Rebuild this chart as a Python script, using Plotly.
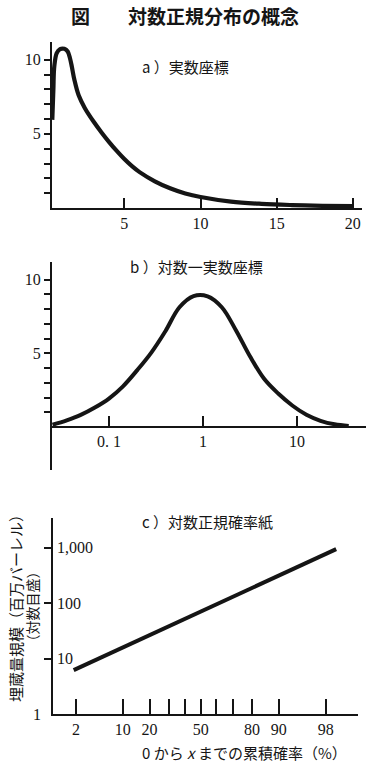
import math
import plotly.graph_objects as go
from statistics import NormalDist

# ---------------- data ----------------
# a) real coordinates
a_x = [0.27, 0.34, 0.40, 0.56, 0.78, 1.06, 1.28, 1.43, 1.55, 1.72, 2.0, 2.4, 3.0, 3.5, 4.0,
       4.5, 5.0, 5.5, 6.0, 7.0, 8.0, 9.0, 10, 12, 14, 16, 18, 20]
a_y = [5.95, 7.97, 9.55, 10.45, 10.72, 10.74, 10.56, 10.1, 9.55, 8.65, 7.6, 6.75, 5.8, 5.1, 4.45,
       3.85, 3.3, 2.82, 2.42, 1.8, 1.33, 0.98, 0.74, 0.43, 0.28, 0.2, 0.15, 0.12]
a_xticks = [5, 10, 15, 20]
a_yticks = [1, 2, 3, 4, 5, 6, 7, 8, 9, 10]
a_ylabels = ["", "", "", "", "5", "", "", "", "", "10"]

# b) log - real coordinates
b_x = [0.0251, 0.0355, 0.0501, 0.0708, 0.1, 0.141, 0.2, 0.282, 0.398, 0.562, 0.794, 1.12,
       1.585, 2.24, 3.16, 4.47, 6.31, 8.91, 12.6, 17.8, 25.1, 35.5]
b_y = [0.15, 0.45, 0.82, 1.32, 1.93, 2.76, 3.86, 5.05, 6.5, 8.13, 8.89, 8.87,
       8.13, 6.57, 4.8, 3.27, 2.27, 1.46, 0.83, 0.42, 0.18, 0.07]
b_xticks = [0.1, 1, 10]
b_xlabels = ["0. 1", "1", "10"]
b_yticks = [1, 2, 3, 4, 5, 6, 7, 8, 9, 10]
b_ylabels = ["", "", "", "", "5", "", "", "", "", "10"]

# c) log-normal probability paper
c_prob = [1.83, 98.7]          # cumulative probability (%)
c_size = [6.2, 950]            # reserve size (million barrels)
c_xticks = [2, 10, 20, 30, 40, 50, 60, 70, 80, 90, 98]
c_xlabels = ["2", "10", "20", "", "", "50", "", "", "80", "90", "98"]
c_yticks = [10, 100, 1000]
c_ylabels = ["10", "100", "1,000"]

# ---------------- helpers ----------------
W, H = 379, 772
nd = NormalDist()
probit = lambda p: nd.inv_cdf(p / 100.0)

def px(x):
    return x / W

def py(y):
    return 1 - y / H

INK = "#151515"
NUM = dict(family="Liberation Serif", size=16, color=INK)
JP = "Noto Sans CJK JP"

fig = go.Figure()

fig.add_trace(go.Scatter(x=a_x, y=a_y, mode="lines", xaxis="x", yaxis="y",
                         line=dict(color=INK, width=4.2, shape="spline", smoothing=1.0),
                         hoverinfo="skip"))
fig.add_trace(go.Scatter(x=b_x, y=b_y, mode="lines", xaxis="x2", yaxis="y2",
                         line=dict(color=INK, width=4, shape="spline", smoothing=1.0),
                         hoverinfo="skip"))
fig.add_trace(go.Scatter(x=[probit(p) for p in c_prob], y=c_size, mode="lines",
                         xaxis="x3", yaxis="y3",
                         line=dict(color=INK, width=4), hoverinfo="skip"))

common = dict(showline=True, linecolor=INK, linewidth=2, showgrid=False, zeroline=False,
              tickcolor=INK, tickwidth=2, tickfont=NUM)

fig.update_layout(
    width=W, height=H, margin=dict(l=0, r=0, t=0, b=0),
    paper_bgcolor="white", plot_bgcolor="white", showlegend=False,
    xaxis=dict(domain=[px(52), px(362)], anchor="y", range=[0.25, 20.6],
               tickmode="array", tickvals=a_xticks, ticks="inside", ticklen=10, **common),
    yaxis=dict(domain=[py(208), py(42)], anchor="x", range=[0, 11.2],
               tickmode="array", tickvals=a_yticks, ticktext=a_ylabels,
               ticks="outside", ticklen=6, **common),
    xaxis2=dict(type="log", domain=[px(52), px(366)], anchor="free", position=py(427),
                range=[-1.606, 1.734], tickmode="array", tickvals=b_xticks,
                ticktext=b_xlabels, ticks="inside", ticklen=10, **common),
    yaxis2=dict(domain=[py(470), py(262)], anchor="x2", range=[-2.92, 11.2],
                tickmode="array", tickvals=b_yticks, ticktext=b_ylabels,
                ticks="outside", ticklen=6, **common),
    xaxis3=dict(domain=[px(53), px(358)], anchor="y3", range=[-2.43, 2.585],
                tickmode="array", tickvals=[probit(p) for p in c_xticks],
                ticktext=c_xlabels, ticks="inside", ticklen=15, **common),
    yaxis3=dict(type="log", domain=[py(714), py(518)], anchor="x3", range=[0.0, 3.54],
                tickmode="array", tickvals=c_yticks, showticklabels=False,
                ticks="outside", ticklen=7, **common),
)

ann = []
ann.append(dict(text="<b>図　　対数正規分布の概念</b>", x=px(184.5), y=py(15.5),
                xref="paper", yref="paper", showarrow=False, xanchor="center",
                yanchor="middle", font=dict(family=JP, size=19, color=INK)))
for txt, x0, y0 in [("a ）実数座標", 140, 67), ("b ）対数一実数座標", 128, 266.7),
                    ("c ）対数正規確率紙", 140, 521.7)]:
    ann.append(dict(text=txt, x=px(x0), y=py(y0), xref="paper", yref="paper",
                    showarrow=False, xanchor="left", yanchor="middle",
                    font=dict(family=JP, size=15, color=INK)))
# y tick labels of panel c (drawn right of the axis, "1" left of it)
for v, lab in zip(c_yticks, c_ylabels):
    ann.append(dict(text=lab, x=px(55), y=math.log10(v), xref="paper", yref="y3",
                    showarrow=False, xanchor="left", yanchor="middle", font=NUM))
ann.append(dict(text="1", x=px(43), y=0, xref="paper", yref="y3", showarrow=False,
                xanchor="right", yanchor="middle", font=NUM))
ann.append(dict(text="埋蔵量規模（百万バーレル）", x=px(15), y=py(605), xref="paper",
                yref="paper", showarrow=False, textangle=-90, xanchor="center",
                yanchor="middle", font=dict(family=JP, size=15, color=INK)))
ann.append(dict(text="（対数目盛）", x=px(31.5), y=py(607), xref="paper",
                yref="paper", showarrow=False, textangle=-90, xanchor="center",
                yanchor="middle", font=dict(family=JP, size=14, color=INK)))
ann.append(dict(text="0 から <i>x</i> までの累積確率（%）", x=px(140), y=py(752), xref="paper",
                yref="paper", showarrow=False, xanchor="left", yanchor="middle",
                font=dict(family=JP, size=15, color=INK)))
fig.update_layout(annotations=ann)

fig.write_html("out.html", config={"displayModeBar": False},
               post_script="document.body.style.margin='0';")
